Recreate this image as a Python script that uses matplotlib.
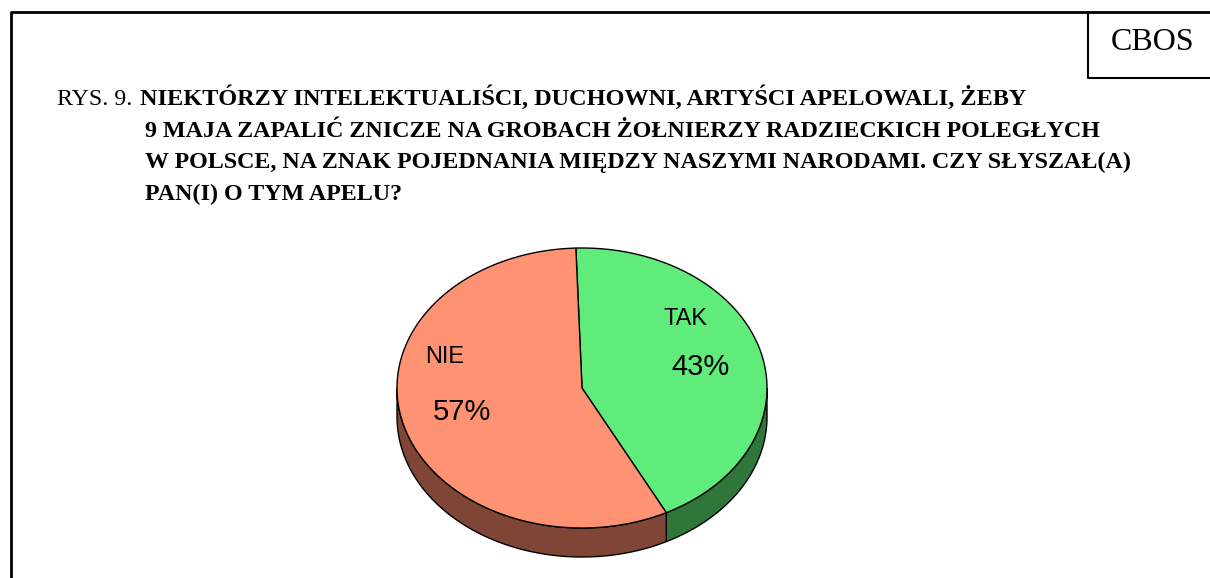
import numpy as np
import matplotlib.pyplot as plt
from matplotlib.patches import Polygon

# data
labels = ['TAK', 'NIE']
values = [43, 57]
top_colors = ['#60ec7a', '#ff9273']
side_colors = ['#2f763b', '#7f4638']

title_prefix = 'RYS. 9. '
title_lines = [
    'NIEKTÓRZY INTELEKTUALIŚCI, DUCHOWNI, ARTYŚCI APELOWALI, ŻEBY',
    '9 MAJA ZAPALIĆ ZNICZE NA GROBACH ŻOŁNIERZY RADZIECKICH POLEGŁYCH',
    'W POLSCE, NA ZNAK POJEDNANIA MIĘDZY NASZYMI NARODAMI. CZY SŁYSZAŁ(A)',
    'PAN(I) O TYM APELU?',
]

# pie geometry (pixels)
cx, cy = 582, 388
rx, ry = 185, 140
depth = 29
start_angle = 91.9


def ellipse_pts(t0, t1, dy=0, n=200):
    t = np.radians(np.linspace(t0, t1, n))
    return np.column_stack([cx + rx * np.cos(t), cy - ry * np.sin(t) + dy])


fig = plt.figure(figsize=(12.1, 5.78), dpi=100)
ax = fig.add_axes([0, 0, 1, 1])
ax.set_xlim(0, 1210)
ax.set_ylim(578, 0)
ax.axis('off')

# frame and CBOS box
ax.plot([11, 11, 1215], [600, 12, 12], color='black', lw=2, solid_capstyle='projecting')
ax.plot([1088, 1088, 1215], [12, 78, 78], color='black', lw=1.5)
ax.text(1153, 43, 'CBOS', fontsize=23, family='Liberation Serif', ha='center', va='center')

# title (baselines)
serif = 'Liberation Serif'
ax.text(57, 105, title_prefix, fontsize=17.2, family=serif, ha='left', va='baseline')
ax.text(140, 105, title_lines[0], fontsize=17.44, family=serif, weight='bold',
        ha='left', va='baseline')
for i, line in enumerate(title_lines[1:]):
    ax.text(145, 136.7 + i * 31.7, line, fontsize=17.25, family=serif, weight='bold',
            ha='left', va='baseline')

# slice angles (clockwise from start)
fracs = np.array(values) / sum(values)
bounds = []
a = start_angle
for f in fracs:
    bounds.append((a - f * 360, a))
    a -= f * 360

# side walls (front half only: -180..0)
for (lo, hi), col in zip(bounds, side_colors):
    for shift in (0, -360, 360):
        s0 = max(lo + shift, -180)
        s1 = min(hi + shift, 0)
        if s1 > s0:
            top = ellipse_pts(s0, s1)
            bot = ellipse_pts(s1, s0, dy=depth)
            ax.add_patch(Polygon(np.vstack([top, bot]), closed=True, facecolor=col,
                                 edgecolor='black', lw=1))

# top wedges
for (lo, hi), col in zip(bounds, top_colors):
    pts = np.vstack([[cx, cy], ellipse_pts(hi, lo)])
    ax.add_patch(Polygon(pts, closed=True, facecolor=col, edgecolor='black', lw=1))

# labels
label_pos = {'TAK': ((685, 319), (701, 367)), 'NIE': ((445, 357), (462, 412))}
for lab, val in zip(labels, values):
    (lx, ly), (px, py) = label_pos[lab]
    ax.text(lx, ly, lab, fontsize=17, family='Liberation Sans', ha='center', va='center')
    ax.text(px, py, f'{val}%', fontsize=21, family='Liberation Sans', ha='center', va='center')

fig.savefig('out.png', dpi=100, facecolor='white')
